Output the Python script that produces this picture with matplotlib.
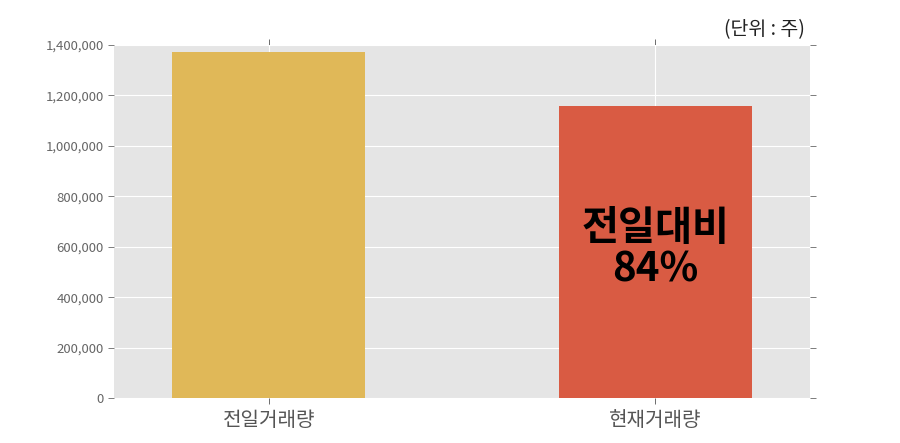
import matplotlib
matplotlib.use("Agg")
import matplotlib.pyplot as plt
from matplotlib.ticker import FuncFormatter

categories = ["전일거래량", "현재거래량"]
values = [1372000, 1158000]
colors = ["#e0b858", "#d95b43"]
yticks = [0, 200000, 400000, 600000, 800000, 1000000, 1200000, 1400000]
ratio_text = "전일대비\n84%"
unit_text = "(단위 : 주)"

plt.rcParams['font.family'] = ['Noto Sans CJK KR', 'DejaVu Sans']

fig = plt.figure(figsize=(9, 4.43), dpi=100)
ax = fig.add_axes([114/900, 1-398/443, (810-114)/900, (398-45)/443])
ax.set_facecolor("#e5e5e5")
x = list(range(len(categories)))
ax.bar(x, values, width=0.5, color=colors, zorder=3)
ax.set_xlim(-0.4, 1.4)
ax.set_ylim(0, 1400000)
ax.set_yticks(yticks)
ax.yaxis.set_major_formatter(FuncFormatter(lambda v, p: f"{int(v):,}"))
ax.set_xticks(x)
ax.set_xticklabels(categories, fontsize=14.5, color="#555555")
ax.grid(True, color="white", linewidth=0.8, zorder=0)
for s in ax.spines.values():
    s.set_visible(False)
ax.tick_params(axis='y', labelsize=9.5, colors="#666666", length=4, direction='out', right=True, width=0.6)
ax.tick_params(axis='x', length=4, direction='out', top=True, colors="#555555", width=0.6, pad=5)
ax.tick_params(axis='x', labelcolor="#555555")
ax.text(1, 590000, ratio_text, ha='center', va='center', fontsize=29, fontweight='bold', color='black', linespacing=1.0, zorder=4)
fig.text(805/900, 1-30/443, unit_text, ha='right', va='center', fontsize=14, color='#222222')
fig.savefig("out.png", dpi=100)
